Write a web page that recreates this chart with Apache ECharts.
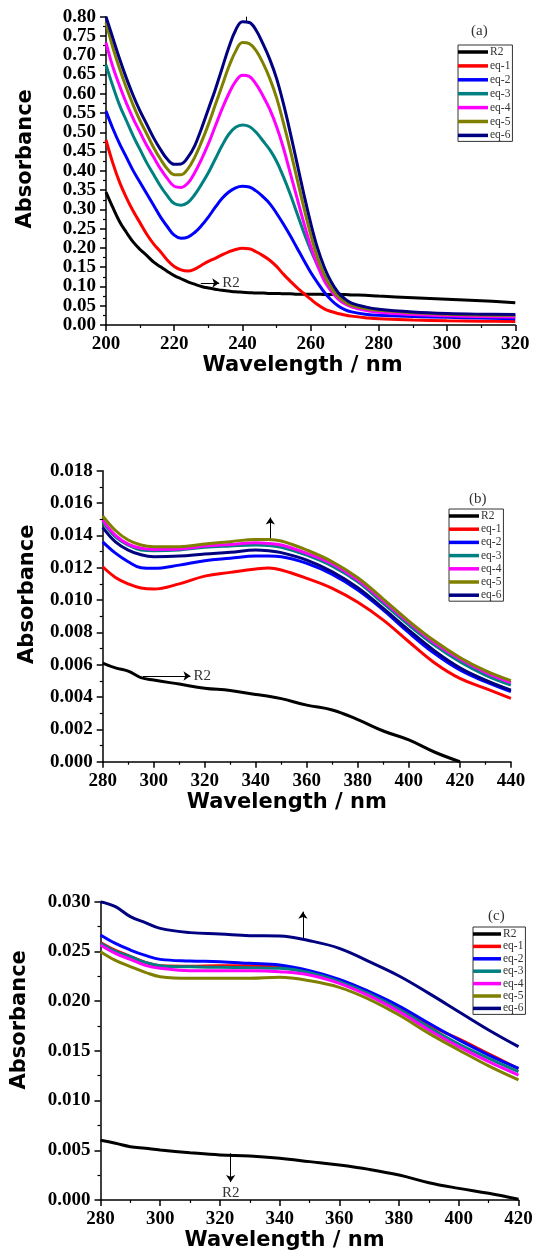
<!DOCTYPE html>
<html>
<head>
<meta charset="utf-8">
<script src="https://cdn.jsdelivr.net/npm/echarts@6/dist/echarts.min.js"></script>
<style>
  html, body { margin: 0; padding: 0; background: #fff; }
  #chart { width: 533px; height: 1252px; }
</style>
</head>
<body>
<div id="chart"></div>
<script>
// ---- data ----
const seriesNames = ["R2", "eq-1", "eq-2", "eq-3", "eq-4", "eq-5", "eq-6"];
const seriesColors = ["#000000", "#ff0000", "#0000ff", "#008080", "#ff00ff", "#808000", "#000080"];

// panel (a)
const waveA = [200, 202, 204, 206, 208, 210, 212, 214, 216, 218, 220, 222, 224, 226, 228, 230, 232, 234, 236, 238,
  240, 242, 244, 246, 248, 250, 252, 254, 256, 258, 260, 262, 264, 266, 268, 270, 272, 276, 280, 290, 300, 310, 320];
const r2A = [0.345, 0.305, 0.268, 0.24, 0.215, 0.196, 0.18, 0.163, 0.151, 0.139, 0.128, 0.12, 0.112, 0.106, 0.1, 0.096, 0.093, 0.09, 0.088, 0.086,
  0.085, 0.084, 0.083, 0.083, 0.082, 0.082, 0.081, 0.081, 0.08, 0.08, 0.08, 0.08, 0.079, 0.079, 0.079, 0.079, 0.078, 0.077, 0.075, 0.071, 0.067, 0.063, 0.058];
const eq1A = [0.48, 0.42, 0.37, 0.33, 0.295, 0.265, 0.235, 0.21, 0.19, 0.168, 0.152, 0.143, 0.14, 0.145, 0.155, 0.165, 0.173, 0.182, 0.19, 0.196,
  0.199, 0.198, 0.19, 0.18, 0.168, 0.152, 0.132, 0.114, 0.097, 0.082, 0.067, 0.053, 0.042, 0.035, 0.03, 0.026, 0.023, 0.019, 0.016, 0.013, 0.011, 0.01, 0.009];
const eq2A = [0.555, 0.51, 0.47, 0.435, 0.4, 0.37, 0.34, 0.31, 0.28, 0.255, 0.233, 0.225, 0.228, 0.24, 0.258, 0.28, 0.305, 0.328, 0.345, 0.356,
  0.36, 0.358, 0.348, 0.333, 0.315, 0.29, 0.262, 0.232, 0.2, 0.168, 0.137, 0.11, 0.085, 0.065, 0.05, 0.04, 0.034, 0.028, 0.025, 0.022, 0.02, 0.018, 0.016];
const eq3A = [0.675, 0.62, 0.57, 0.53, 0.49, 0.455, 0.42, 0.39, 0.36, 0.335, 0.315, 0.311, 0.318, 0.338, 0.365, 0.395, 0.43, 0.465, 0.495, 0.513,
  0.519, 0.515, 0.5, 0.478, 0.455, 0.425, 0.385, 0.34, 0.29, 0.24, 0.195, 0.155, 0.12, 0.093, 0.072, 0.057, 0.048, 0.04, 0.036, 0.031, 0.028, 0.026, 0.025];
const eq4A = [0.733, 0.67, 0.62, 0.575, 0.535, 0.5, 0.465, 0.435, 0.405, 0.38, 0.36, 0.357, 0.368, 0.395, 0.43, 0.47, 0.515, 0.56, 0.6, 0.632,
  0.648, 0.645, 0.625, 0.595, 0.56, 0.515, 0.46, 0.395, 0.33, 0.265, 0.205, 0.155, 0.115, 0.088, 0.068, 0.055, 0.047, 0.038, 0.033, 0.027, 0.024, 0.022, 0.021];
const eq5A = [0.785, 0.72, 0.665, 0.615, 0.57, 0.53, 0.495, 0.46, 0.43, 0.405, 0.39, 0.39, 0.405, 0.435, 0.475, 0.52, 0.57, 0.62, 0.67, 0.71,
  0.733, 0.73, 0.712, 0.68, 0.64, 0.59, 0.525, 0.455, 0.38, 0.305, 0.235, 0.175, 0.13, 0.097, 0.075, 0.06, 0.051, 0.043, 0.038, 0.032, 0.028, 0.026, 0.025];
const eq6A = [0.8, 0.745, 0.69, 0.64, 0.595, 0.555, 0.52, 0.485, 0.455, 0.43, 0.417, 0.418, 0.435, 0.465, 0.51, 0.56, 0.61, 0.665, 0.72, 0.765,
  0.787, 0.785, 0.765, 0.73, 0.69, 0.64, 0.575, 0.5, 0.42, 0.34, 0.265, 0.2, 0.15, 0.112, 0.085, 0.068, 0.057, 0.047, 0.041, 0.034, 0.03, 0.028, 0.027];

// panel (b)
const waveB = [280, 285, 290, 295, 300, 310, 320, 330, 340, 345, 350, 360, 370, 380, 390, 400, 410, 420, 430, 440];
const r2B = [0.0061, 0.0058, 0.0056, 0.0052, 0.00505, 0.0048, 0.00455, 0.0044, 0.00415, 0.00405, 0.0039, 0.0035, 0.0032, 0.0026, 0.0019, 0.00135, 0.0006, 0.0, null, null];
const eq1B = [0.01206, 0.0114, 0.011, 0.01075, 0.01068, 0.011, 0.01148, 0.01171, 0.01192, 0.01198, 0.01186, 0.01134, 0.01072, 0.00986, 0.00876, 0.00742, 0.00612, 0.00515, 0.00454, 0.00392];
const eq2B = [0.0136, 0.0129, 0.01237, 0.012, 0.01196, 0.01216, 0.01243, 0.01258, 0.01272, 0.01272, 0.01268, 0.01227, 0.01159, 0.01062, 0.00938, 0.00798, 0.0067, 0.00567, 0.00495, 0.00433];
const eq3B = [0.01485, 0.0139, 0.0134, 0.0131, 0.01305, 0.0131, 0.01326, 0.01334, 0.0134, 0.01338, 0.01326, 0.01278, 0.0121, 0.01113, 0.00979, 0.00845, 0.00722, 0.00619, 0.00536, 0.00474];
const eq4B = [0.01495, 0.014, 0.01346, 0.0132, 0.01313, 0.01315, 0.01334, 0.01344, 0.01354, 0.0135, 0.0134, 0.01289, 0.01223, 0.01124, 0.00994, 0.0086, 0.00736, 0.00635, 0.00553, 0.00489];
const eq5B = [0.0152, 0.0143, 0.01371, 0.0134, 0.0133, 0.0133, 0.01346, 0.01361, 0.01375, 0.01375, 0.01365, 0.01309, 0.01237, 0.01138, 0.01006, 0.0087, 0.00748, 0.00645, 0.00563, 0.00501];
const eq6B = [0.0145, 0.0136, 0.01309, 0.0128, 0.01268, 0.01272, 0.01285, 0.01295, 0.0131, 0.01305, 0.01293, 0.01247, 0.01175, 0.01076, 0.00948, 0.00814, 0.00687, 0.00581, 0.00505, 0.00443];

// panel (c)
const waveC = [280, 285, 290, 295, 300, 310, 320, 330, 340, 350, 360, 370, 380, 390, 400, 410, 420];
const r2C = [0.006, 0.0057, 0.00536, 0.0052, 0.00503, 0.00476, 0.00453, 0.00442, 0.00419, 0.00386, 0.00352, 0.00308, 0.00251, 0.00174, 0.00117, 0.00067, 0.00007];
const eq1C = [0.0259, 0.0251, 0.0245, 0.0239, 0.02355, 0.0235, 0.02355, 0.02355, 0.0234, 0.0229, 0.0221, 0.0209, 0.01935, 0.0176, 0.0162, 0.0147, 0.0132];
const eq2C = [0.02665, 0.0258, 0.02514, 0.0246, 0.0242, 0.02404, 0.02397, 0.0238, 0.02363, 0.02306, 0.02219, 0.02095, 0.01951, 0.01777, 0.0161, 0.01458, 0.01324];
const eq3C = [0.02581, 0.025, 0.02447, 0.0239, 0.02357, 0.02345, 0.0234, 0.02335, 0.0233, 0.02286, 0.02196, 0.02072, 0.01918, 0.01737, 0.01569, 0.01425, 0.01291];
const eq4C = [0.02565, 0.0248, 0.0242, 0.0236, 0.0233, 0.02306, 0.02306, 0.02306, 0.02296, 0.02263, 0.02179, 0.02052, 0.01894, 0.0171, 0.01542, 0.01391, 0.01257];
const eq5C = [0.02497, 0.0241, 0.02347, 0.0229, 0.02246, 0.02229, 0.02229, 0.02229, 0.02239, 0.02206, 0.02139, 0.02018, 0.0186, 0.01676, 0.01509, 0.01348, 0.01207];
const eq6C = [0.03, 0.0295, 0.0285, 0.0279, 0.02732, 0.02689, 0.02675, 0.02658, 0.02655, 0.02608, 0.02531, 0.02397, 0.02253, 0.02078, 0.01894, 0.0171, 0.01542];

const panels = [
  { tag: "(a)", wave: waveA, values: [r2A, eq1A, eq2A, eq3A, eq4A, eq5A, eq6A],
    xMin: 200, xMax: 320, xStep: 20, yMax: 0.8, yStep: 0.05, digits: 2 },
  { tag: "(b)", wave: waveB, values: [r2B, eq1B, eq2B, eq3B, eq4B, eq5B, eq6B],
    xMin: 280, xMax: 440, xStep: 20, yMax: 0.018, yStep: 0.002, digits: 3 },
  { tag: "(c)", wave: waveC, values: [r2C, eq1C, eq2C, eq3C, eq4C, eq5C, eq6C],
    xMin: 280, xMax: 420, xStep: 20, yMax: 0.03, yStep: 0.005, digits: 3 },
];

// annotation arrows, in data units: [from, to, label]
const notes = [
  { r2: [[227.8, 0.109], [233.2, 0.109], "R2"], up: [[241, 0.787], [241, 0.8]], head: false },
  { r2: [[295.8, 0.0053], [314.4, 0.0053], "R2"], up: [[345.7, 0.0137], [345.7, 0.0151]], head: true },
  { r2: [[323.6, 0.0047], [323.6, 0.0018], "R2"], up: [[347.8, 0.0263], [347.8, 0.029]], head: true },
];

// ---- layout ----
const grids = [
  { left: 106, top: 16.7, width: 409.3, height: 308.3 },
  { left: 102.7, top: 470.7, width: 408.2, height: 291 },
  { left: 100.5, top: 901.7, width: 418, height: 298.3 },
];
const legendPos = [
  { left: 458, top: 45, itemWidth: 30, itemGap: 1.9 },
  { left: 449, top: 509, itemWidth: 30, itemGap: 1.2 },
  { left: 473, top: 927, itemWidth: 28, itemGap: 0.4 },
];
const tagPos = [{ left: 471, top: 24 }, { left: 469, top: 492 }, { left: 488, top: 909 }];
const xNameGap = [28, 24, 26];
const xNameShift = [16, 40, 50];
const yNameGap = [70, 65, 70];
const yNameShift = [24, 44, 62];

const serif = "'Liberation Serif', 'Times New Roman', serif";
const sans = "'DejaVu Sans', 'Liberation Sans', Arial, sans-serif";

function axisCommon() {
  return {
    axisLine: { show: true, onZero: false, lineStyle: { color: "#000", width: 1.5 } },
    axisTick: { show: true, inside: false, length: 6, lineStyle: { color: "#000", width: 1.5 } },
    minorTick: { show: true, splitNumber: 2, length: 3, lineStyle: { color: "#000", width: 1.2 } },
    splitLine: { show: false },
    minorSplitLine: { show: false },
  };
}

const option = {
  animation: false,
  backgroundColor: "#fff",
  title: panels.map((p, i) => ({
    text: p.tag, left: tagPos[i].left, top: tagPos[i].top, padding: 0,
    textStyle: { fontFamily: serif, fontSize: 15, fontWeight: "normal", color: "#333" },
  })),
  legend: panels.map((p, i) => ({
    data: seriesNames,
    orient: "vertical",
    left: legendPos[i].left,
    top: legendPos[i].top,
    icon: "rect",
    itemWidth: legendPos[i].itemWidth,
    itemHeight: 3.5,
    itemGap: legendPos[i].itemGap,
    padding: [1, 2, 0, 0],
    borderColor: "#333",
    borderWidth: 1,
    selectedMode: false,
    textStyle: { fontFamily: serif, fontSize: 11.5, lineHeight: 12, color: "#333", padding: [0, 0, 0, -3] },
  })),
  grid: grids.map((g) => Object.assign({ containLabel: false, outerBoundsMode: "none" }, g)),
  xAxis: panels.map((p, i) => Object.assign(axisCommon(), {
    type: "value", gridIndex: i,
    min: p.xMin, max: p.xMax, interval: p.xStep,
    name: "Wavelength / nm",
    nameLocation: "middle",
    nameGap: xNameGap[i],
    nameTextStyle: { fontFamily: sans, fontWeight: "bold", fontSize: 21, color: "#000", padding: [0, xNameShift[i], 0, 0] },
    axisLabel: { fontFamily: serif, fontWeight: "bold", fontSize: 19, color: "#000", margin: 10, hideOverlap: false },
  })),
  yAxis: panels.map((p, i) => Object.assign(axisCommon(), {
    type: "value", gridIndex: i,
    min: 0, max: p.yMax, interval: p.yStep,
    name: "Absorbance",
    nameLocation: "middle",
    nameGap: yNameGap[i],
    nameTextStyle: { fontFamily: sans, fontWeight: "bold", fontSize: 21, color: "#000", padding: [0, 0, 0, yNameShift[i]] },
    axisLabel: {
      fontFamily: serif, fontWeight: "bold", fontSize: 19, color: "#000", margin: 10, hideOverlap: false,
      formatter: (v) => v.toFixed(p.digits),
    },
  })),
  series: [],
};

function arrowLine(from, to, withHead, text) {
  return [
    {
      coord: from,
      symbol: "none",
    },
    {
      coord: to,
      symbol: withHead ? "arrow" : "none",
      symbolSize: 7,
      label: text
        ? { show: true, formatter: text, position: "end", distance: 3, fontFamily: serif, fontSize: 15, color: "#333" }
        : { show: false },
    },
  ];
}

panels.forEach((p, i) => {
  seriesNames.forEach((name, k) => {
    const s = {
      type: "line",
      name: name,
      xAxisIndex: i,
      yAxisIndex: i,
      data: p.wave.map((w, j) => [w, p.values[k][j]]),
      showSymbol: false,
      smooth: 0.4,
      connectNulls: false,
      color: seriesColors[k],
      lineStyle: { width: 3, color: seriesColors[k] },
      emphasis: { disabled: true },
      z: 2 + k,
    };
    if (k === 0) {
      const n = notes[i];
      s.markLine = {
        silent: true,
        animation: false,
        symbol: ["none", "arrow"],
        lineStyle: { color: "#000", width: 1, type: "solid" },
        label: { show: false },
        data: [
          arrowLine(n.r2[0], n.r2[1], true, n.r2[2]),
          arrowLine(n.up[0], n.up[1], n.head, null),
        ],
      };
    }
    option.series.push(s);
  });
});

const chart = echarts.init(document.getElementById("chart"), null, { renderer: "canvas" });
chart.setOption(option);
</script>
</body>
</html>
